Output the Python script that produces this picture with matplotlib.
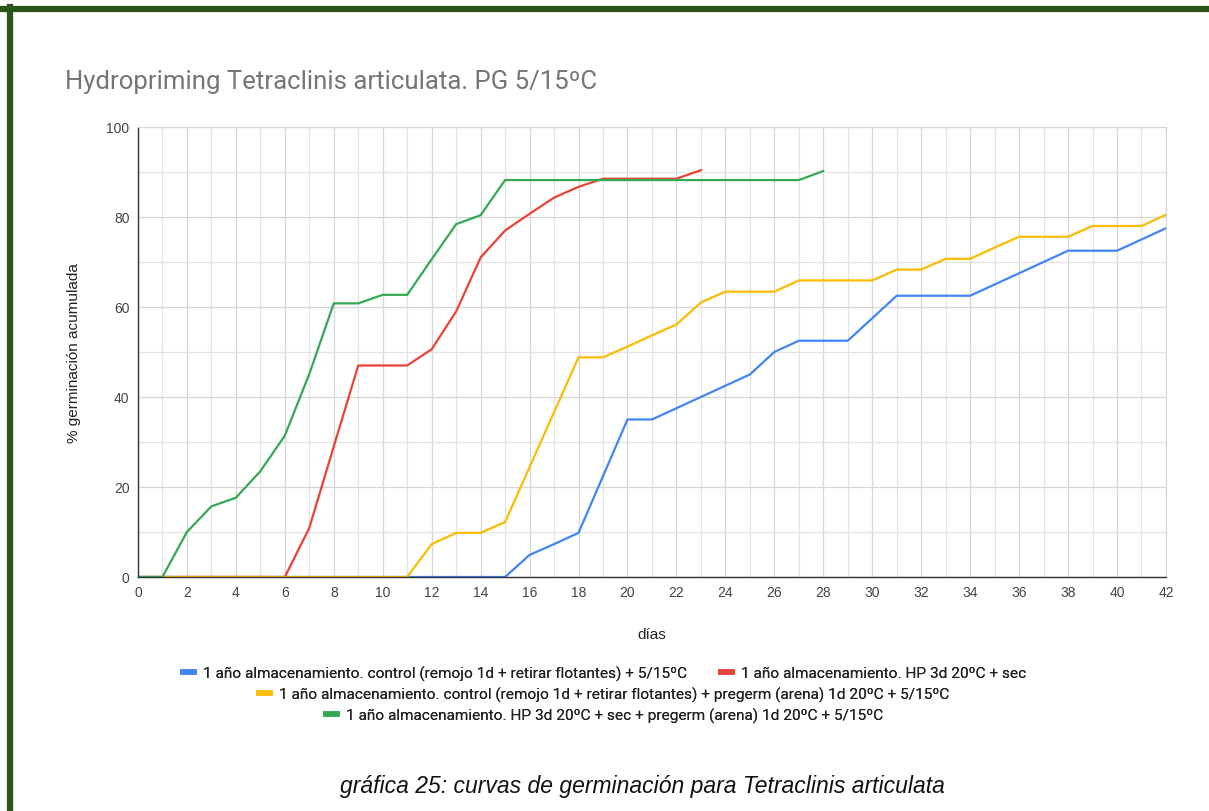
import matplotlib
matplotlib.use('Agg')
import matplotlib.pyplot as plt
from matplotlib.lines import Line2D
import numpy as np


# Cumulative germination (%) per day
days_long = list(range(0, 43))
days_red = list(range(0, 24))
days_green = list(range(0, 29))

blue_vals = [0] * 16 + [4.9, 7.3, 9.8, 22.4, 35, 35, 37.5, 40, 42.5, 45, 50,
                        52.5, 52.5, 52.5, 57.5, 62.5, 62.5, 62.5, 62.5, 65,
                        67.5, 70, 72.5, 72.5, 72.5, 75, 77.5]
yellow_vals = [0] * 12 + [7.3, 9.8, 9.8, 12.2, 24.4, 36.6, 48.8, 48.8, 51.2,
                          53.7, 56.1, 61, 63.4, 63.4, 63.4, 65.9, 65.9, 65.9,
                          65.9, 68.3, 68.3, 70.7, 70.7, 73.2, 75.6, 75.6, 75.6,
                          78, 78, 78, 80.5]
red_vals = [0] * 7 + [10.9, 29, 47, 47, 47, 50.6, 59, 71, 77, 80.7, 84.3,
                      86.7, 88.5, 88.5, 88.5, 88.5, 90.4]
green_vals = [0, 0, 10, 15.7, 17.6, 23.5, 31.4, 45.1, 60.8, 60.8, 62.7, 62.7,
              70.6, 78.4, 80.4] + [88.2] * 13 + [90.2]

labels = [
    '1 año almacenamiento. control (remojo 1d + retirar flotantes) + 5/15ºC',
    '1 año almacenamiento. HP 3d 20ºC + sec',
    '1 año almacenamiento. control (remojo 1d + retirar flotantes) + pregerm (arena) 1d 20ºC + 5/15ºC',
    '1 año almacenamiento. HP 3d 20ºC + sec + pregerm (arena) 1d 20ºC + 5/15ºC',
]
colors = ['#4285F4', '#EA4335', '#FBBC04', '#34A853']

title = 'Hydropriming Tetraclinis articulata. PG 5/15ºC'
caption = 'gráfica 25: curvas de germinación para Tetraclinis articulata'


### Figure ###

fig = plt.figure(figsize=(12.09, 8.12), dpi=100)
ax = fig.add_axes([0.1141, 0.2882, 0.8503, 0.5542])

series = [(days_long, blue_vals), (days_red, red_vals),
          (days_long, yellow_vals), (days_green, green_vals)]
for (x, y), c, lab in zip(series, colors, labels):
    ax.plot(x, y, color=c, lw=1.6, label=lab, solid_joinstyle='round')

ax.set_xlim(0, 42)
ax.set_ylim(0, 100)
ax.set_xticks(np.arange(0, 43, 2))
ax.set_xticks(np.arange(1, 43, 2), minor=True)
ax.set_yticks(np.arange(0, 101, 20))
ax.set_yticks(np.arange(10, 100, 20), minor=True)
ax.grid(which='major', color='#d6d6d6', lw=0.9)
ax.grid(which='minor', color='#e3e3e3', lw=0.9)
ax.set_axisbelow(True)
ax.tick_params(which='both', length=0, labelsize=10, labelcolor='#444444',
               pad=6)
for lab in ax.get_xticklabels() + ax.get_yticklabels():
    lab.set_family(['Liberation Sans', 'DejaVu Sans'])

for side in ['top', 'right']:
    ax.spines[side].set_color('#d6d6d6')
for side in ['left', 'bottom']:
    ax.spines[side].set_color('#333333')
    ax.spines[side].set_linewidth(1.0)

ax.set_xlabel('días', fontsize=11, color='#222222', labelpad=20,
              family=['Liberation Sans', 'DejaVu Sans'])
ax.set_ylabel('% germinación acumulada', fontsize=11, color='#222222',
              labelpad=18, family=['Liberation Sans', 'DejaVu Sans'])

fig.text(0.0538, 0.899, title, fontsize=18.5, color='#757575',
         family=['Roboto', 'DejaVu Sans'], va='center', ha='left')

# legend rows, like the Sheets layout
handles = [Line2D([], [], color=c, lw=4) for c in colors]
leg_font = {'family': ['Roboto', 'DejaVu Sans'], 'size': 11.1}
rows = [([0, 1], 0.170), ([2], 0.144), ([3], 0.118)]
for idx, ypos in rows:
    leg = fig.legend([handles[i] for i in idx], [labels[i] for i in idx],
                     loc='center', bbox_to_anchor=(0.5, ypos), ncol=len(idx),
                     frameon=False, prop=leg_font, handlelength=0.7,
                     handletextpad=0.6, columnspacing=2.2)
    for t in leg.get_texts():
        t.set_color('#222222')
    fig.add_artist(leg)

fig.text(0.531, 0.032, caption, fontsize=16.5, style='italic', color='#111111',
         family=['Liberation Sans', 'DejaVu Sans'], ha='center', va='center')

# dark green frame on the top and left edges
fig.add_artist(Line2D([0.0, 1.0], [0.9883, 0.9883], transform=fig.transFigure,
                      color='#2b5419', lw=4.5))
fig.add_artist(Line2D([0.0083, 0.0083], [0.0, 0.99], transform=fig.transFigure,
                      color='#2b5419', lw=4.5))

fig.savefig('out.png', dpi=100)
